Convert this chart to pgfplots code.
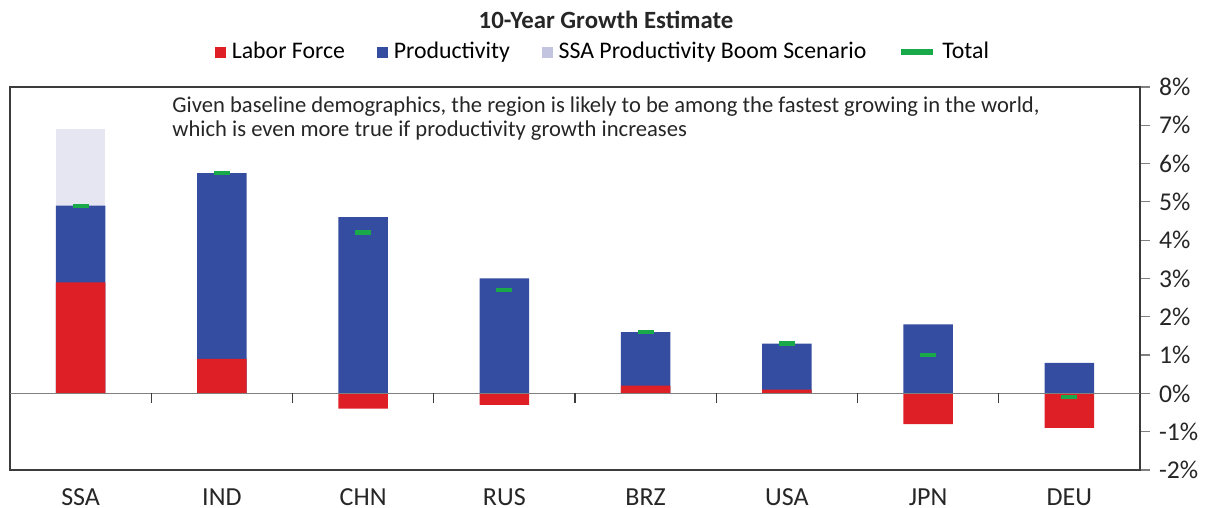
\documentclass[border=0pt]{standalone}
\usepackage{fontspec}
\setmainfont{Carlito}
\usepackage{pgfplots}
\pgfplotsset{compat=1.18}
\definecolor{labred}{RGB}{222,31,38}
\definecolor{prodblue}{RGB}{52,77,160}
\definecolor{boomlight}{RGB}{230,230,242}
\definecolor{boomleg}{RGB}{195,197,224}
\definecolor{totgreen}{RGB}{25,168,74}
\definecolor{boxgray}{RGB}{60,60,60}
\definecolor{zerogray}{RGB}{128,128,128}
\begin{document}
\begin{tikzpicture}
\useasboundingbox (-5pt,-19pt) rectangle (597.5pt,235pt);
\begin{axis}[
  at={(0,0)}, anchor=south west,
  scale only axis, width=565pt, height=191.5pt,
  xmin=-0.5, xmax=7.5, ymin=-2, ymax=8,
  xtick={0,1,2,3,4,5,6,7},
  xticklabels={SSA,IND,CHN,RUS,BRZ,USA,JPN,DEU},
  x tick style={draw=none},
  xticklabel style={inner sep=0pt, yshift=-4pt, font=\fontsize{13}{13}\selectfont},
  ytick={-2,-1,0,1,2,3,4,5,6,7,8},
  ytick pos=right, yticklabel pos=right,
  tick align=outside,
  major tick length=5pt,
  y tick style={zerogray, line width=0.6pt},
  yticklabel={\pgfmathprintnumber{\tick}\%},
  yticklabel style={font=\fontsize{12.8}{13}\selectfont, xshift=1pt},
  /pgf/number format/assume math mode=true,
  tick label style={text=black!85},
  axis line style={boxgray, line width=0.7pt},
  legend columns=4,
  legend cell align=left,
  legend style={draw=none, fill=none, at={(0.5257,1.0914)}, anchor=center,
    font=\fontsize{11.9}{12}\selectfont,
    /tikz/every even column/.append style={column sep=14pt},
    /tikz/every odd column/.append style={column sep=1pt}},
]
\addlegendimage{legend image code/.code={\fill[labred] (0pt,-2.5pt) rectangle (5pt,2.5pt);}}
\addlegendentry{Labor Force}
\addlegendimage{legend image code/.code={\fill[prodblue] (0pt,-2.5pt) rectangle (5pt,2.5pt);}}
\addlegendentry{Productivity}
\addlegendimage{legend image code/.code={\fill[boomleg] (0pt,-2.5pt) rectangle (5pt,2.5pt);}}
\addlegendentry{SSA Productivity Boom Scenario}
\addlegendimage{legend image code/.code={\draw[totgreen, line width=3pt] (0pt,0pt) -- (16pt,0pt);}}
\addlegendentry{Total}

% SSA productivity boom scenario (top of bar)
\addplot[ybar, bar width=0.35, bar shift=0pt, fill=boomlight, draw=none, forget plot]
  coordinates {(0,6.9)};
% Productivity (top of blue segment; blue starts at 0 when labor force is negative)
\addplot[ybar, bar width=0.35, bar shift=0pt, fill=prodblue, draw=none, forget plot]
  coordinates {(0,4.9) (1,5.75) (2,4.6) (3,3.0) (4,1.6) (5,1.3) (6,1.8) (7,0.8)};
% Labor force
\addplot[ybar, bar width=0.35, bar shift=0pt, fill=labred, draw=none, forget plot]
  coordinates {(0,2.9) (1,0.9) (2,-0.4) (3,-0.3) (4,0.2) (5,0.1) (6,-0.8) (7,-0.9)};
% Total
\addplot[only marks, mark=-, mark size=4pt, totgreen, mark options={line width=2.2pt}, forget plot]
  coordinates {(0,4.9) (1,5.75) (2,4.2) (3,2.7) (4,1.6) (5,1.3) (6,1.0) (7,-0.1)};

\draw[zerogray, line width=0.7pt] (axis cs:-0.5,0) -- (axis cs:7.5,0);
\pgfplotsinvokeforeach{0.5,1.5,2.5,3.5,4.5,5.5,6.5}{
  \draw[boxgray, line width=0.6pt] (axis cs:#1,0) -- ++(0pt,-5pt);
}

\node[anchor=north west, align=left, inner sep=0pt, font=\fontsize{11.3}{12}\selectfont, text=black!85]
  at (rel axis cs:0.1434,0.9765)
  {Given baseline demographics, the region is likely to be among the fastest growing in the world,\\
   which is even more true if productivity growth increases};
\end{axis}
\node[font=\fontsize{12.4}{13}\selectfont\bfseries, text=black!85] at (298pt,225pt) {10-Year Growth Estimate};
\end{tikzpicture}
\end{document}
